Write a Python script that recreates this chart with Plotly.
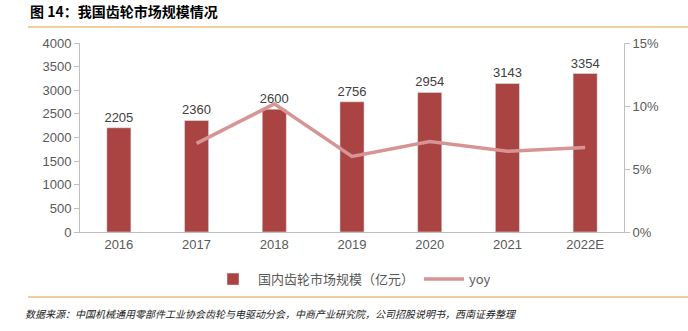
import plotly.graph_objects as go

years = ["2016", "2017", "2018", "2019", "2020", "2021", "2022E"]
market_size = [2205, 2360, 2600, 2756, 2954, 3143, 3354]
yoy = [None, 7.03, 10.17, 6.00, 7.18, 6.40, 6.71]

bar_color = "#a94442"
line_color = "#d69594"
tick_color = "#595959"
axis_color = "#bfbfbf"
font_main = "Liberation Sans, Arial, sans-serif"

fig = go.Figure()
fig.add_trace(go.Bar(
    x=years, y=market_size, name="国内齿轮市场规模（亿元）",
    marker=dict(color=bar_color), width=0.31,
    text=[str(v) for v in market_size], textposition="outside",
    constraintext="none",
    textfont=dict(size=13, color="#404040", family=font_main),
    cliponaxis=False, yaxis="y",
))
fig.add_trace(go.Scatter(
    x=years, y=yoy, name="yoy", mode="lines",
    line=dict(color=line_color, width=3.5), yaxis="y2",
))

fig.update_layout(
    width=688, height=331,
    margin=dict(l=80, r=64, t=43, b=99),
    plot_bgcolor="white", paper_bgcolor="white",
    font=dict(family=font_main, color=tick_color, size=13),
    bargap=0.69,
    showlegend=True,
    legend=dict(orientation="h", x=0.5, xanchor="center", y=-0.17, yanchor="top",
                font=dict(size=13, color=tick_color, family="Noto Sans CJK SC, " + font_main),
                itemwidth=40, tracegroupgap=0),
    xaxis=dict(type="category", showline=True, linecolor=axis_color, linewidth=1,
               ticks="", tickfont=dict(size=13, color=tick_color), showgrid=False),
    yaxis=dict(range=[0, 4000], dtick=500, showline=True, linecolor=axis_color, linewidth=1,
               ticks="outside", ticklen=5, tickcolor=axis_color, showgrid=False,
               tickfont=dict(size=13, color=tick_color), zeroline=False),
    yaxis2=dict(range=[0, 15], dtick=5, overlaying="y", side="right", showline=True,
                linecolor=axis_color, linewidth=1, ticks="outside", ticklen=5,
                tickcolor=axis_color, showgrid=False, ticksuffix="%",
                tickfont=dict(size=13, color=tick_color), zeroline=False),
)

fig.add_annotation(text="<b>图 14：我国齿轮市场规模情况</b>", xref="paper", yref="paper",
                   x=(28 - 80) / 544, xanchor="left", y=1 + (43 - 11) / 189, yanchor="middle",
                   showarrow=False, font=dict(size=14, color="#000000", family="Noto Sans CJK SC"))
fig.add_shape(type="line", xref="paper", yref="paper",
              x0=(28 - 80) / 544, x1=(688 - 80) / 544,
              y0=1 + (43 - 27) / 189, y1=1 + (43 - 27) / 189,
              line=dict(color="#e0a040", width=1.2))
fig.add_shape(type="line", xref="paper", yref="paper",
              x0=(28 - 80) / 544, x1=(688 - 80) / 544,
              y0=-(297 - 232) / 189, y1=-(297 - 232) / 189,
              line=dict(color="#e0a040", width=1.2))
fig.add_annotation(text="<i>数据来源：中国机械通用零部件工业协会齿轮与电驱动分会，中商产业研究院，公司招股说明书，西南证券整理</i>",
                   xref="paper", yref="paper", x=(23 - 80) / 544, xanchor="left",
                   y=-(313 - 232) / 189, yanchor="middle", showarrow=False,
                   font=dict(size=10, color="#222222", family="Noto Sans CJK SC", weight="normal"))

fig.write_html("out.html")
